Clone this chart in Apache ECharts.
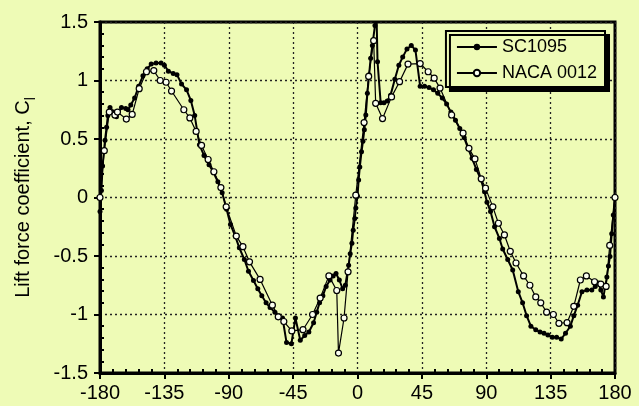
<!DOCTYPE html>
<html>
<head>
<meta charset="utf-8">
<script src="https://cdn.jsdelivr.net/npm/echarts@6/dist/echarts.min.js"></script>
<style>
html,body{margin:0;padding:0;background:#eefbb6;}
#c{width:639px;height:406px;}
</style>
</head>
<body>
<div id="c"></div>
<script>
// Angle of attack (deg) and lift coefficient values
const xTicks = [-180, -135, -90, -45, 0, 45, 90, 135, 180];
const yTicks = [-1.5, -1, -0.5, 0, 0.5, 1, 1.5];

const sc1095Alpha = [-180,-179,-178.2,-176.5,-175.4,-174.5,-173,-170.5,-168.5,-165,-162,-160.4,-158.5,-155.8,-153,-150,-147,-144.2,-140.8,-137.3,-135,-132.2,-128.8,-126.2,-123,-119.5,-116.5,-113.8,-110.5,-107.3,-103.8,-100.9,-97.6,-94.6,-91.5,-88.8,-85.5,-82.6,-79.1,-76.2,-72.7,-69.7,-66.9,-63.9,-61.1,-57.7,-55,-52.4,-49.6,-46.2,-43.4,-40,-36.9,-34,-30.7,-28.5,-26.5,-24.2,-21.9,-19.2,-17,-15,-12.7,-10.4,-8.5,-6.2,-5.1,-3.9,-3,-1.9,-1.2,0,0.8,1.6,2.8,3.8,4.8,5.8,6.9,8.1,9.2,10.4,12.2,13.2,14,16.2,18.5,20.8,23.1,26.1,28.9,31.6,34.6,37.6,40.5,43.8,46.9,50,53.1,56.1,59.3,62.3,65.3,68.5,71.5,74.6,77.3,80.1,83.1,86.1,88.8,90.5,93,95.8,99.2,101.5,105,108.5,112.4,115.4,118.2,121.2,124.6,127.6,130.4,133.1,136.2,139.2,142.4,145.4,148.8,151.2,153.9,156.9,160.4,163.8,166.2,168.5,170.1,171.9,174.3,175.4,176.5,177.7,178.8,180];
const sc1095Cl = [-0.12,0.06,0.27,0.49,0.60,0.70,0.77,0.73,0.69,0.77,0.76,0.75,0.79,0.85,0.95,1.04,1.10,1.14,1.15,1.15,1.13,1.08,1.06,1.05,0.97,0.92,0.83,0.70,0.45,0.36,0.28,0.22,0.135,0.04,-0.10,-0.23,-0.33,-0.43,-0.53,-0.63,-0.71,-0.78,-0.84,-0.90,-0.94,-0.98,-1.01,-1.03,-1.24,-1.25,-1.03,-1.22,-1.18,-1.15,-1.07,-0.98,-0.90,-0.84,-0.76,-0.705,-0.67,-0.65,-0.705,-0.78,-0.75,-0.58,-0.48,-0.39,-0.28,-0.18,-0.09,0.01,0.15,0.26,0.39,0.48,0.58,0.705,0.89,1.05,1.19,1.30,1.47,1.62,1.16,0.81,0.81,0.825,0.875,1.01,1.13,1.20,1.27,1.30,1.26,0.95,0.95,0.94,0.92,0.89,0.85,0.80,0.73,0.66,0.59,0.51,0.42,0.335,0.24,0.16,0.05,-0.04,-0.12,-0.25,-0.35,-0.44,-0.53,-0.62,-0.805,-0.90,-1.01,-1.10,-1.13,-1.15,-1.16,-1.175,-1.195,-1.195,-1.21,-1.16,-1.10,-1.01,-0.92,-0.805,-0.79,-0.79,-0.76,-0.73,-0.79,-0.85,-0.68,-0.585,-0.505,-0.31,-0.15,0.01];

const naca0012Alpha = [-180,-177,-173.5,-169.6,-167.8,-161.6,-157.5,-152.6,-147.5,-142.4,-137.9,-133.8,-130,-121.4,-117.2,-112.8,-109,-104.4,-100.4,-95.5,-91.8,-84.7,-80.1,-75.5,-68.1,-59.5,-55.4,-51.5,-45.9,-38.1,-31.4,-26.1,-20,-14.5,-13.3,-9.4,-6.6,-1.2,4.6,7.8,11.3,12.7,17.5,23.8,29.4,35.3,43.8,49.4,53.6,57.7,65.8,73.8,77.9,82.1,86.5,89.5,94.6,98.5,102.7,106.8,110.8,116.1,120.5,124.6,128.1,132.2,136.9,140.8,146.5,151.2,155.8,160,165.7,170.1,173.8,176.3,180];
const naca0012Cl = [0.0,0.40,0.73,0.705,0.73,0.67,0.71,0.93,1.075,1.085,1.0,0.985,0.91,0.75,0.68,0.565,0.445,0.325,0.22,0.085,-0.08,-0.33,-0.42,-0.55,-0.70,-0.92,-1.02,-1.06,-1.14,-1.13,-1.0,-0.86,-0.67,-0.795,-1.33,-1.03,-0.635,0.02,0.64,1.035,1.34,0.805,0.675,0.86,0.99,1.14,1.145,1.075,1.02,0.935,0.705,0.55,0.42,0.33,0.16,0.08,-0.08,-0.22,-0.32,-0.46,-0.56,-0.67,-0.75,-0.85,-0.90,-0.98,-1.0,-1.075,-1.07,-0.93,-0.705,-0.67,-0.72,-0.74,-0.76,-0.41,0.0];

const seriesNames = ['SC1095', 'NACA 0012'];

function pairs(xs, ys) { return xs.map((x, i) => [x, ys[i]]); }

const FONT = '"Liberation Sans", Arial, Helvetica, sans-serif';
const BG = '#eefbb6';

const chart = echarts.init(document.getElementById('c'), null, {renderer: 'canvas'});
chart.setOption({
  backgroundColor: BG,
  animation: false,
  grid: {left: 95, right: 24, top: 22, bottom: 33, show: true, borderColor: '#000', borderWidth: 3, backgroundColor: 'transparent'},
  legend: {
    right: 34, top: 31,
    orient: 'vertical',
    data: seriesNames,
    itemWidth: 40, itemHeight: 8, itemGap: 8,
    padding: [7, 8, 5, 10],
    backgroundColor: BG,
    borderColor: '#000', borderWidth: 2,
    shadowColor: '#000', shadowBlur: 0, shadowOffsetX: 4, shadowOffsetY: 4,
    textStyle: {fontFamily: FONT, fontSize: 18, color: '#000'}
  },
  xAxis: [{
    type: 'value', min: xTicks[0], max: xTicks[xTicks.length - 1], interval: 45,
    position: 'bottom',
    axisLine: {show: true, onZero: false, lineStyle: {color: '#000', width: 3}},
    axisTick: {show: true, length: 6, lineStyle: {color: '#000', width: 2}},
    axisLabel: {fontFamily: FONT, fontSize: 20, color: '#000', margin: 10},
    splitLine: {show: true, lineStyle: {color: '#222', type: [2, 3], width: 1.3}}
  }, {
    type: 'value', min: xTicks[0], max: xTicks[xTicks.length - 1], interval: 45,
    position: 'bottom', gridIndex: 0,
    axisLine: {show: false, onZero: false}, axisLabel: {show: false}, splitLine: {show: false},
    axisTick: {show: false, inside: true},
    minorTick: {show: true, splitNumber: 5, length: 4, lineStyle: {color: '#000', width: 2}}
  }],
  yAxis: [{
    type: 'value', min: yTicks[0], max: yTicks[yTicks.length - 1], interval: 0.5,
    position: 'left',
    axisLine: {show: true, onZero: false, lineStyle: {color: '#000', width: 3}},
    axisTick: {show: true, length: 6, lineStyle: {color: '#000', width: 2}},
    axisLabel: {fontFamily: FONT, fontSize: 20, color: '#000', margin: 12},
    splitLine: {show: true, lineStyle: {color: '#222', type: [2, 3], width: 1.3}},
    name: 'Lift force coefficient, C{s|l}',
    nameLocation: 'middle', nameGap: 62, nameRotate: 90,
    nameTextStyle: {
      fontFamily: FONT, fontSize: 20, color: '#000', lineHeight: 30,
      rich: {s: {fontFamily: FONT, fontSize: 14, color: '#000', verticalAlign: 'bottom', lineHeight: 30}}
    }
  }, {
    type: 'value', min: yTicks[0], max: yTicks[yTicks.length - 1], interval: 0.5,
    position: 'left', gridIndex: 0,
    axisLine: {show: false, onZero: false}, axisLabel: {show: false}, splitLine: {show: false},
    axisTick: {show: false, inside: true},
    minorTick: {show: true, splitNumber: 5, length: 4, lineStyle: {color: '#000', width: 2}}
  }],
  series: [{
    name: seriesNames[0], type: 'line', xAxisIndex: 0, yAxisIndex: 0,
    data: pairs(sc1095Alpha, sc1095Cl),
    symbol: 'circle', symbolSize: 5, showAllSymbol: true, clip: true,
    lineStyle: {color: '#000', width: 2},
    itemStyle: {color: '#000'}
  }, {
    name: seriesNames[1], type: 'line', xAxisIndex: 0, yAxisIndex: 0,
    data: pairs(naca0012Alpha, naca0012Cl),
    symbol: 'circle', symbolSize: 6, showAllSymbol: true, clip: true,
    lineStyle: {color: '#000', width: 1.2},
    itemStyle: {color: '#fbfff0', borderColor: '#000', borderWidth: 1.2}
  }]
});
</script>
</body>
</html>
